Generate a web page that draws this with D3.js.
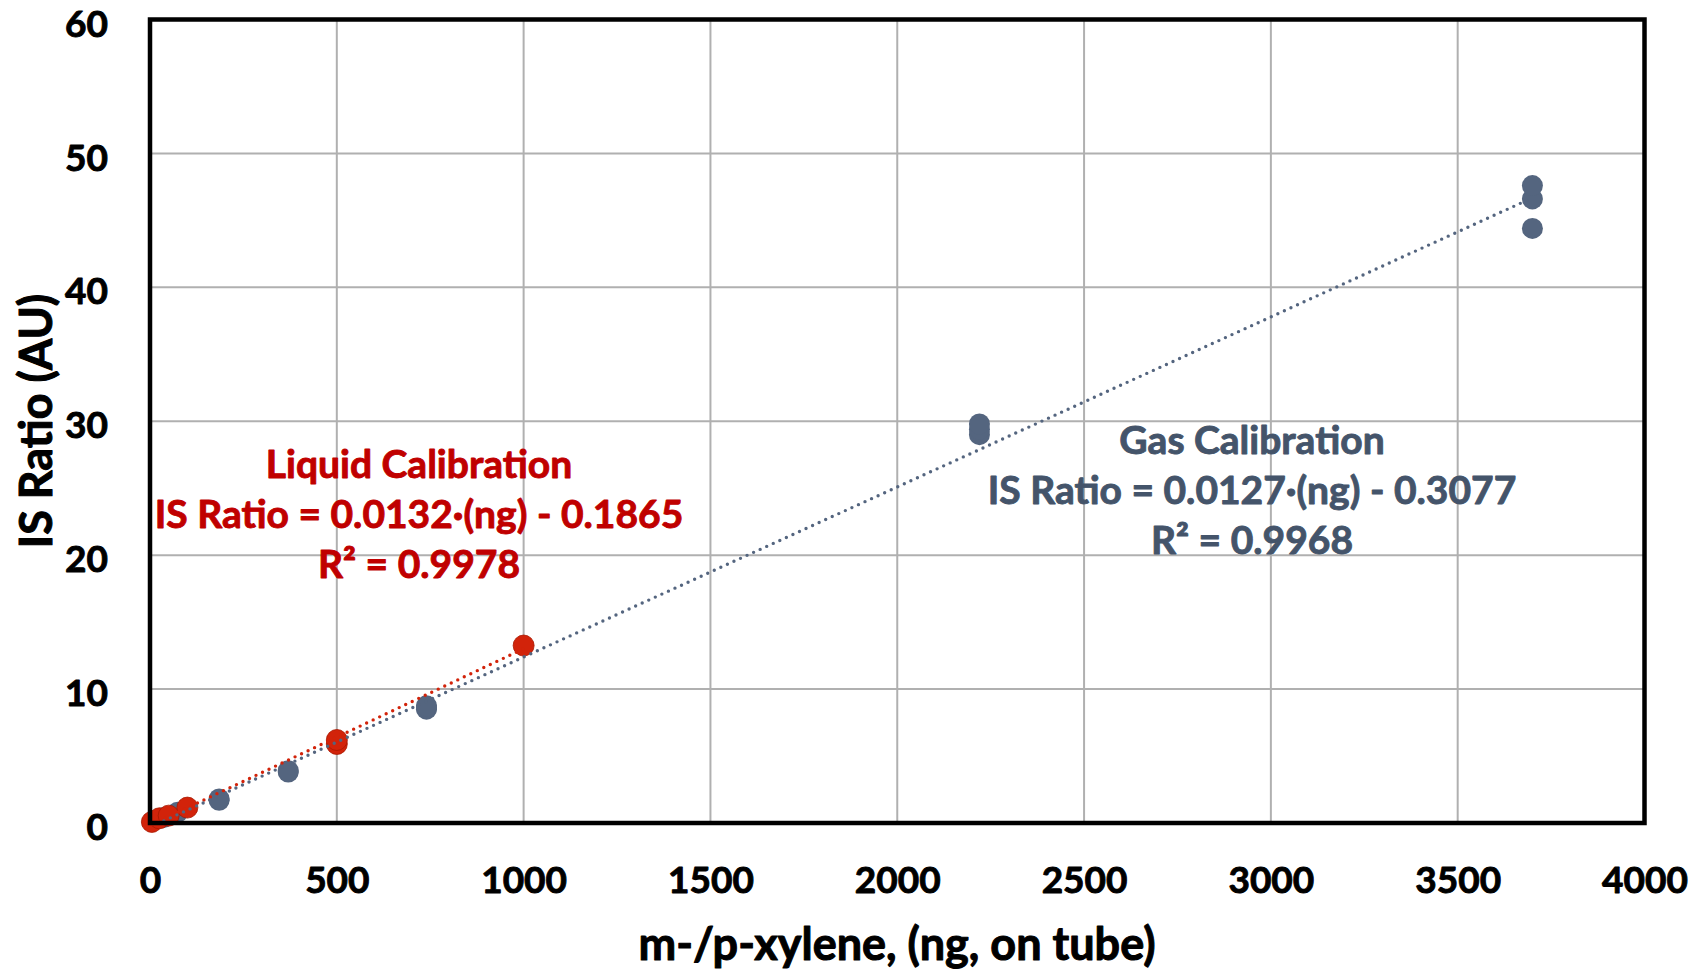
<!DOCTYPE html>
<html>
<head>
<meta charset="utf-8">
<script src="https://cdn.jsdelivr.net/npm/d3@7"></script>
<style>
  html, body { margin: 0; padding: 0; background: #fff; }
  svg text { font-family: Lato, "Open Sans", "Liberation Sans", sans-serif; font-weight: 700; paint-order: stroke; stroke-linejoin: round; }
</style>
</head>
<body>
<svg id="chart" width="1700" height="969"></svg>
<script>
// Gas-phase calibration standards: mass on tube (ng) and IS ratio
const gasNg    = [37, 74, 185, 185, 370, 370, 740, 740, 740, 2220, 2220, 2220, 3700, 3700, 3700];
const gasRatio = [0.42, 0.8, 1.7, 1.8, 3.8, 3.9, 8.5, 8.6, 8.75, 29.0, 29.4, 29.8, 44.4, 46.6, 47.6];

// Liquid-spiked calibration standards
const liqNg    = [5, 25, 50, 100, 500, 500, 1000];
const liqRatio = [0.08, 0.35, 0.55, 1.15, 5.9, 6.2, 13.25];

// Linear fits reported for each calibration
const gasFit = { slope: 0.0127, intercept: -0.3077 };
const liqFit = { slope: 0.0132, intercept: -0.1865 };

const xTicks = [0, 500, 1000, 1500, 2000, 2500, 3000, 3500, 4000];
const yTicks = [0, 10, 20, 30, 40, 50, 60];

const gasLabel = ["Gas Calibration", "IS Ratio = 0.0127·(ng) - 0.3077", "R² = 0.9968"];
const liqLabel = ["Liquid Calibration", "IS Ratio = 0.0132·(ng) - 0.1865", "R² = 0.9978"];

const GAS_MARK = "#54657f", GAS_TEXT = "#44546a";
const LIQ_MARK = "#d2230a", LIQ_TEXT = "#c00000";

const svg = d3.select("#chart");
const plot = { left: 150, right: 1644.5, top: 19.5, bottom: 823 };

const x = d3.scaleLinear().domain([0, 4000]).range([plot.left, plot.right]);
const y = d3.scaleLinear().domain([0, 60]).range([plot.bottom, plot.top]);

svg.append("rect").attr("width", 1700).attr("height", 969).attr("fill", "#fff");

// gridlines
const grid = svg.append("g").attr("stroke", "#b0b0b0").attr("stroke-width", 2);
grid.selectAll("line.v").data(xTicks.slice(1, -1)).join("line")
  .attr("x1", d => x(d)).attr("x2", d => x(d))
  .attr("y1", plot.top).attr("y2", plot.bottom);
grid.selectAll("line.h").data(yTicks.slice(1, -1)).join("line")
  .attr("y1", d => y(d)).attr("y2", d => y(d))
  .attr("x1", plot.left).attr("x2", plot.right);

// axes: labels only, ticks hidden
const xAxis = d3.axisBottom(x).tickValues(xTicks).tickSize(0).tickPadding(0).tickFormat(d3.format("d"));
const gx = svg.append("g").attr("transform", `translate(0,${plot.bottom})`).call(xAxis);
gx.select(".domain").remove();
gx.selectAll("text").attr("y", 70).attr("dy", null)
  .attr("font-size", 37).attr("fill", "#000").attr("stroke", "#000").attr("stroke-width", 0.9);

const yAxis = d3.axisLeft(y).tickValues(yTicks).tickSize(0).tickPadding(0).tickFormat(d3.format("d"));
const gy = svg.append("g").attr("transform", `translate(${plot.left},0)`).call(yAxis);
gy.select(".domain").remove();
gy.selectAll("text").attr("x", -42).attr("dy", "0.45em")
  .attr("font-size", 37).attr("fill", "#000").attr("stroke", "#000").attr("stroke-width", 0.9);

// markers
const marks = svg.append("g");
marks.selectAll("circle.gas").data(gasNg.map((v, i) => [v, gasRatio[i]])).join("circle")
  .attr("cx", d => x(d[0])).attr("cy", d => y(d[1])).attr("r", 10.5)
  .attr("fill", GAS_MARK);
marks.selectAll("circle.liq").data(liqNg.map((v, i) => [v, liqRatio[i]])).join("circle")
  .attr("cx", d => x(d[0])).attr("cy", d => y(d[1])).attr("r", 10.5)
  .attr("fill", LIQ_MARK).attr("stroke", "#a81800").attr("stroke-width", 0.8);

// dotted trendlines spanning each data range
function trend(xs, fit, color) {
  const x0 = d3.min(xs), x1 = d3.max(xs);
  svg.append("line")
    .attr("x1", x(x0)).attr("y1", y(fit.slope * x0 + fit.intercept))
    .attr("x2", x(x1)).attr("y2", y(fit.slope * x1 + fit.intercept))
    .attr("stroke", color).attr("stroke-width", 3.4)
    .attr("stroke-linecap", "round").attr("stroke-dasharray", "0 7.2");
}
trend(liqNg, liqFit, LIQ_MARK);
trend(gasNg, gasFit, GAS_MARK);

// plot frame
svg.append("rect")
  .attr("x", plot.left).attr("y", plot.top)
  .attr("width", plot.right - plot.left).attr("height", plot.bottom - plot.top)
  .attr("fill", "none").attr("stroke", "#000").attr("stroke-width", 4.5);

// fit annotations
function annotate(lines, cx, y0, color) {
  const t = svg.append("text").attr("text-anchor", "middle").attr("fill", color)
    .attr("stroke", color).attr("stroke-width", 0.9).attr("font-size", 39);
  lines.forEach((s, i) => t.append("tspan").attr("x", cx).attr("y", y0 + i * 50).text(s));
}
annotate(liqLabel, 419, 478, LIQ_TEXT);
annotate(gasLabel, 1252, 454, GAS_TEXT);

// axis titles
svg.append("text").attr("x", 897).attr("y", 960).attr("text-anchor", "middle")
  .attr("font-size", 45).attr("fill", "#000").attr("stroke", "#000").attr("stroke-width", 1)
  .text("m-/p-xylene, (ng, on tube)");
svg.append("text").attr("transform", "translate(52,421) rotate(-90)").attr("text-anchor", "middle")
  .attr("font-size", 45).attr("fill", "#000").attr("stroke", "#000").attr("stroke-width", 1)
  .text("IS Ratio (AU)");
</script>
</body>
</html>
